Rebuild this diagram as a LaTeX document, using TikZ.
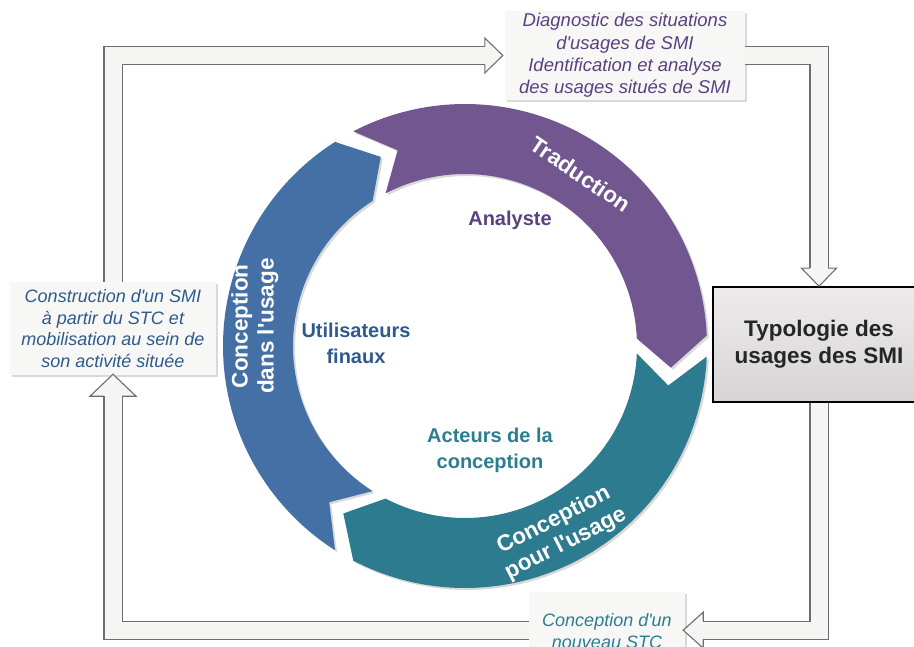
\documentclass[tikz,border=0pt]{standalone}
\usepackage{fontspec}
\setmainfont{Liberation Sans}[Ligatures=TeXOff]
\usepackage{xcolor}
\usetikzlibrary{positioning, calc, shadows}

\definecolor{purp}{HTML}{72568F}
\definecolor{blu}{HTML}{4470A6}
\definecolor{tea}{HTML}{2C7B8E}
\definecolor{purptxt}{HTML}{5A4180}
\definecolor{blutxt}{HTML}{2F5A8C}
\definecolor{teatxt}{HTML}{2B7E8E}
\definecolor{arrline}{HTML}{6E6E6E}
\definecolor{arrfill}{HTML}{F5F5F4}
\definecolor{boxfill}{HTML}{F7F7F5}
\definecolor{typtop}{HTML}{EDEBEB}
\definecolor{typbot}{HTML}{D6D4D4}

\tikzset{
  infobox/.style={fill=boxfill, align=center, inner sep=0pt,
    drop shadow={shadow xshift=2pt, shadow yshift=-2pt, fill=black!15, opacity=1},
    font=\fontsize{18}{21.5}\selectfont\itshape},
  shaft/.style={draw=arrline, line width=1.1pt, double=arrfill, double distance=17pt},
  tipline/.style={draw=arrline, line width=1.1pt, line join=miter},
  ringlbl/.style={text=white, align=center, font=\fontsize{22.5}{26}\selectfont\bfseries},
  actor/.style={align=center, font=\fontsize{20}{26}\selectfont\bfseries},
}

\begin{document}
\begin{tikzpicture}[x=1pt, y=-1pt]
  \useasboundingbox (0,0) rectangle (914,647);
  \clip (0,0) rectangle (914,647);

  % boxes
  \node[infobox, text=purptxt, minimum width=240pt, minimum height=89pt,
    font=\fontsize{18.5}{22.3}\selectfont\itshape] (diag) at (625,55.5)
    {Diagnostic des situations\\d'usages de SMI\\Identification et analyse\\des usages situés de SMI};
  \node[infobox, text=blutxt, minimum width=206pt, minimum height=93pt] (lbox) at (113,328.5)
    {Construction d'un SMI\\à partir du STC et\\mobilisation au sein de\\son activité située};
  \node[infobox, text=teatxt, minimum width=156pt, minimum height=78pt, anchor=north] (bot) at (607,592)
    {Conception d'un\\nouveau STC};

  % block arrows
  \coordinate (t1) at ($(diag.west)+(-2,0)$);
  \coordinate (b1) at ($(t1)+(-18,0)$);
  \fill[arrfill] ($(b1)+(0,-17.5)$) -- (t1) -- ($(b1)+(0,17.5)$) -- cycle;
  \draw[shaft] (lbox.north) |- (b1);
  \draw[tipline] ($(b1)+(0,-9.05)$) -- ($(b1)+(0,-17.5)$) -- (t1) -- ($(b1)+(0,17.5)$) -- ($(b1)+(0,9.05)$);

  \node[draw=black, line width=1.6pt, top color=typtop, bottom color=typbot,
    minimum width=212pt, minimum height=115pt, align=center, text=black!85,
    font=\fontsize{22.5}{27}\selectfont\bfseries] (typo) at (819,344.5) {Typologie des\\usages des SMI};

  \coordinate (t2) at (typo.north);
  \coordinate (b2) at ($(t2)+(0,-18)$);
  \fill[arrfill] ($(b2)+(-17.5,0)$) -- (t2) -- ($(b2)+(17.5,0)$) -- cycle;
  \draw[shaft] (diag.east) -| (b2);
  \draw[tipline] ($(b2)+(-9.05,0)$) -- ($(b2)+(-17.5,0)$) -- (t2) -- ($(b2)+(17.5,0)$) -- ($(b2)+(9.05,0)$);

  \coordinate (t3) at ($(bot.east)+(-2,-1)$);
  \coordinate (b3) at ($(t3)+(20,0)$);
  \fill[arrfill] ($(b3)+(0,-18)$) -- (t3) -- ($(b3)+(0,18)$) -- cycle;
  \draw[shaft] (typo.south) |- (b3);
  \draw[tipline] ($(b3)+(0,-9.05)$) -- ($(b3)+(0,-18)$) -- (t3) -- ($(b3)+(0,18)$) -- ($(b3)+(0,9.05)$);

  \coordinate (t4) at ($(lbox.south)+(0,-1)$);
  \coordinate (b4) at ($(t4)+(0,22)$);
  \fill[arrfill] ($(b4)+(-23,0)$) -- (t4) -- ($(b4)+(23,0)$) -- cycle;
  \draw[shaft] ($(bot.west)+(0,-1)$) -| (b4);
  \draw[tipline] ($(b4)+(-9.05,0)$) -- ($(b4)+(-23,0)$) -- (t4) -- ($(b4)+(23,0)$) -- ($(b4)+(9.05,0)$);

  % cycle
  \begin{scope}[shift={(465,346)}, y=1pt]
    \foreach \c/\col in {180/blu, 60/purp, -60/tea} {
      \fill[black!15, shift={(2pt,-2pt)}] ({\c+57.5}:242) arc[start angle=\c+57.5, end angle=\c-57.5, radius=242]
        -- ({\c-66}:207) -- ({\c-57.5}:172) arc[start angle=\c-57.5, end angle=\c+57.5, radius=172]
        -- ({\c+49}:207) -- cycle;
      \fill[\col] ({\c+57.5}:242) arc[start angle=\c+57.5, end angle=\c-57.5, radius=242]
        -- ({\c-66}:207) -- ({\c-57.5}:172) arc[start angle=\c-57.5, end angle=\c+57.5, radius=172]
        -- ({\c+49}:207) -- cycle;
    }
    \node[ringlbl, rotate=-34] (trad) at (56:207) {Traduction};
    \node[ringlbl, rotate=90] (cdu) at (174.6:211) {Conception\\dans l'usage};
    \node[ringlbl, rotate=27] (cpu) at (-63:209) {Conception\\pour l'usage};
  \end{scope}

  \node[actor, text=purptxt] (ana) at (510,220) {Analyste};
  \node[actor, text=blutxt] (util) at (356,343) {Utilisateurs\\finaux};
  \node[actor, text=teatxt] (act) at (490,450) {Acteurs de la\\conception};
\end{tikzpicture}
\end{document}
